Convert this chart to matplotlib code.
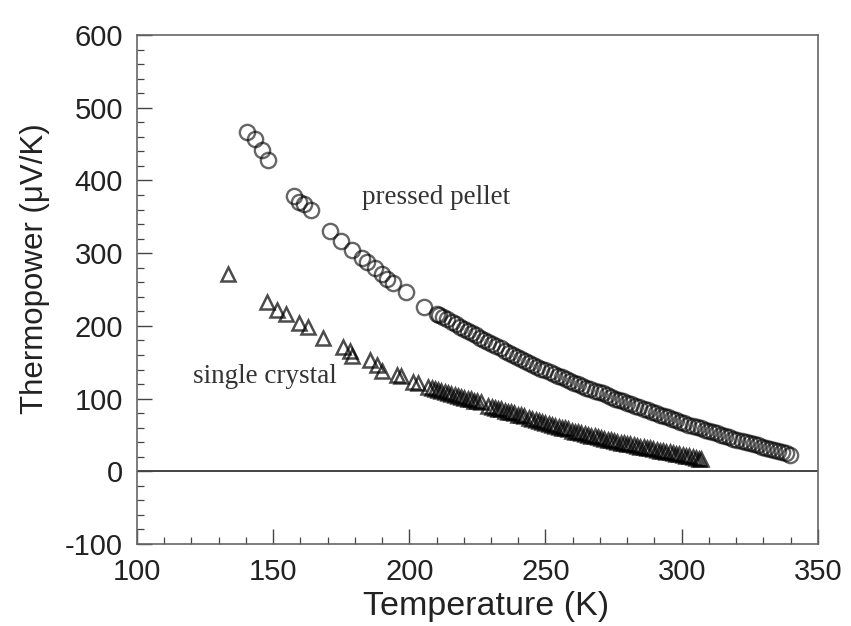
import matplotlib
matplotlib.use("Agg")
import matplotlib.pyplot as plt
import numpy as np
from matplotlib.ticker import MultipleLocator

# pressed pellet (circles): temperature (K), thermopower (uV/K)
pellet_T = [140.3, 143.3, 145.8, 148.2, 157.7, 159.6, 161.3, 163.8, 170.9, 174.8,
            178.8, 182.5, 184.3, 187.4, 189.8, 191.9, 194.1, 198.8, 205.4, 210.0,
            211.0, 212.5, 214.0, 215.5, 217.0, 218.5, 220.0, 221.5, 223.0, 224.5,
            226.0, 227.5, 229.0, 230.5, 232.0, 233.5, 235.0, 236.5, 238.0, 239.5,
            241.0, 242.5, 244.0, 245.5, 247.0, 248.5, 250.0, 251.5, 253.0, 254.5,
            256.0, 257.5, 259.0, 260.5, 262.0, 263.5, 265.0, 266.5, 268.0, 269.5,
            271.0, 272.5, 274.0, 275.5, 277.0, 278.5, 280.0, 281.5, 283.0, 284.5,
            286.0, 287.5, 289.0, 290.5, 292.0, 293.5, 295.0, 296.5, 298.0, 299.5,
            301.0, 302.5, 304.0, 305.5, 307.0, 308.5, 310.0, 311.5, 313.0, 314.5,
            316.0, 317.5, 319.0, 320.5, 322.0, 323.5, 325.0, 326.5, 328.0, 329.5,
            331.0, 332.5, 334.0, 335.5, 337.0, 338.5, 339.7]
pellet_S = [467, 457, 442, 428, 379, 371, 367, 359, 331, 317,
            304, 294, 288, 279, 271, 265, 259, 246, 226, 217,
            215, 212, 209, 206, 202, 199, 196, 193, 190, 187,
            184, 181, 178, 175, 172, 169, 166, 163, 160, 157,
            155, 152, 149, 146, 144, 141, 139, 136, 134, 131,
            129, 127, 124, 122, 120, 117, 115, 113, 111, 109,
            107, 105, 102, 100, 98, 96, 94, 92, 90, 88,
            86, 84, 82, 80, 78, 76, 74, 72, 70, 68,
            66, 64, 62, 60.5, 59, 57, 55, 53.5, 52, 50,
            48, 46.5, 45, 43.5, 42, 40.5, 39, 37.5, 36, 34,
            32, 30.5, 29, 27.5, 26, 24.5, 23]

# single crystal (triangles)
crystal_T = [133.5, 147.8, 151.3, 154.7, 159.6, 162.9, 168.2, 175.7, 178.2, 178.8,
             185.5, 188.0, 190.0, 195.5, 197.0, 201.5, 203.0,
             207.0, 208.2, 209.4, 210.6, 211.8, 213.0, 214.2, 215.4, 216.6, 217.8,
             219.0, 220.2, 221.4, 222.6, 223.8, 225.0, 226.2,
             229.0, 230.2, 231.4, 232.6, 233.8, 235.0, 236.2, 237.4, 238.6, 239.8,
             241.0, 242.0,
             244.0, 245.2, 246.4, 247.6, 248.8, 250.0, 251.2, 252.4, 253.6, 254.8,
             256.0, 257.2, 258.4, 259.6, 260.8, 262.0, 263.2, 264.4, 265.6, 266.8,
             268.0, 269.2, 270.4, 271.6, 272.8, 274.0, 275.2, 276.4, 277.6, 278.8,
             280.0, 281.2, 282.4, 283.6, 284.8, 286.0, 287.2, 288.4, 289.6, 290.8,
             292.0, 293.2, 294.4, 295.6, 296.8, 298.0, 299.2, 300.4, 301.6, 302.8,
             304.0, 305.2, 306.4, 307.2]
crystal_S = [272, 233, 222, 217, 204, 199, 184, 171, 165, 158,
             153, 146, 138, 133, 131, 123, 121,
             116, 114, 113, 112, 110, 109, 107, 106, 105, 104,
             102, 101, 100, 99, 97, 96, 95,
             90, 89, 87, 86, 85, 83, 82, 81, 80, 78,
             77, 76,
             73, 71.5, 70, 69, 67.5, 66, 65, 63.5, 62.5, 61,
             60, 59, 57.5, 56, 54.5, 53.5, 52.5, 51, 50, 49,
             48, 47, 46, 45, 43.5, 42.5, 41.5, 40.5, 39.5, 38.5,
             38, 37, 36, 35, 34, 33, 32, 31.5, 30.5, 29.5,
             28.5, 28, 27, 26, 25, 24, 23.5, 22.5, 21.5, 20.5,
             19.5, 18.5, 17.5, 17]

plt.rcParams["font.family"] = ["Liberation Sans", "DejaVu Sans"]
plt.rcParams["axes.unicode_minus"] = False

fig = plt.figure(figsize=(8.51, 6.26), dpi=100)
ax = fig.add_axes([0.161, 0.131, 0.800, 0.813])

# translucent edges so that overlapping markers darken like the scan
ax.plot(pellet_T, pellet_S, linestyle="none", marker="o", markersize=11,
        markerfacecolor="none", markeredgecolor=(0, 0, 0, 0.6), markeredgewidth=1.7)
ax.plot(crystal_T, crystal_S, linestyle="none", marker="^", markersize=10,
        markerfacecolor="none", markeredgecolor=(0, 0, 0, 0.7), markeredgewidth=1.8)

ax.axhline(0, color="#444444", linewidth=1.4)

ax.set_xlim(100, 350)
ax.set_ylim(-100, 600)
ax.xaxis.set_major_locator(MultipleLocator(50))
ax.xaxis.set_minor_locator(MultipleLocator(10))
ax.yaxis.set_major_locator(MultipleLocator(100))
ax.yaxis.set_minor_locator(MultipleLocator(20))
ax.tick_params(which="both", direction="in", top=False, right=False,
               color="#444444", labelcolor="#222222")
ax.tick_params(which="major", length=11, width=1.0, labelsize=21, pad=10)
ax.tick_params(which="minor", length=5, width=0.9)
for s in ax.spines.values():
    s.set_color("#666666")
    s.set_linewidth(1.2)

ax.set_xlabel("Temperature (K)", fontsize=24.5, color="#222222")
ax.set_ylabel("Thermopower (\u03bcV/K)", fontsize=22.5, color="#222222")
ax.xaxis.set_label_coords(0.513, -0.092)
ax.yaxis.set_label_coords(-0.128, 0.542)

ax.text(182.6, 376, "pressed pellet", family=["Liberation Serif", "DejaVu Serif"],
        fontsize=19.5, color="#333333", va="center", ha="left")
ax.text(120.6, 130, "single crystal", family=["Liberation Serif", "DejaVu Serif"],
        fontsize=19.5, color="#333333", va="center", ha="left")

fig.savefig("out.png", dpi=100)
